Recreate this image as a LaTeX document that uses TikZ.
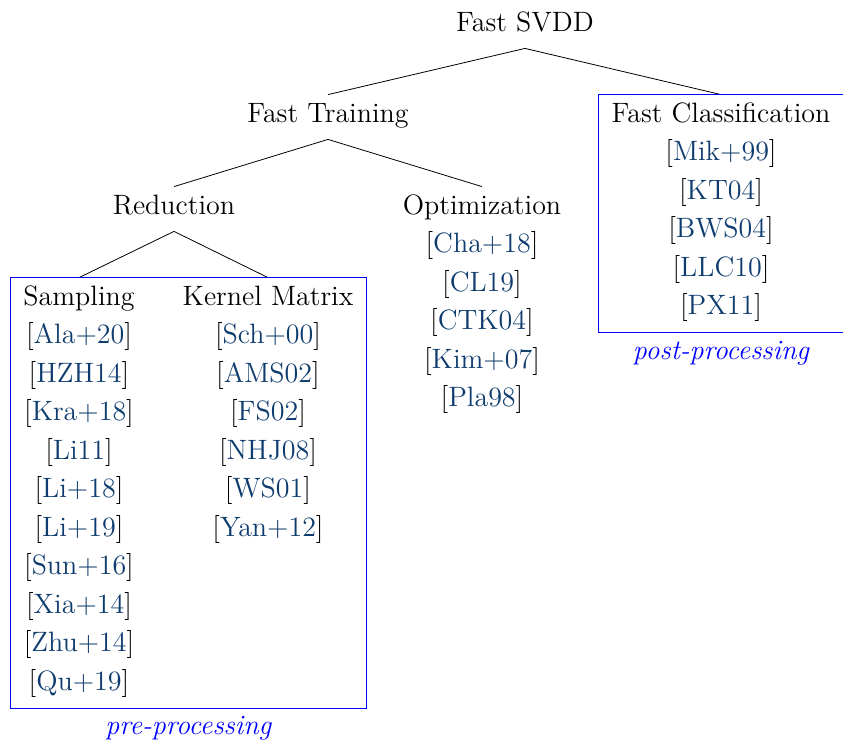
\documentclass[tikz,border=0pt]{standalone}
\usepackage{tikz}
\usetikzlibrary{positioning,fit}
\definecolor{citeblue}{RGB}{15,60,110}
\definecolor{framecol}{RGB}{0,0,255}
\newcommand{\cit}[1]{[\textcolor{citeblue}{#1}]}

\begin{document}
\begin{tikzpicture}[x=0.5pt,y=-0.5pt,font=\fontsize{14}{19.25}\selectfont,node distance=0pt]
            \tikzstyle{head}=[inner xsep=0pt,inner ysep=6pt,text height=0.75em,text depth=0.25em,anchor=base]
            \tikzstyle{cites}=[inner sep=0pt,align=center]
            \tikzstyle{frame}=[inner xsep=6pt,inner ysep=0pt]
            \tikzstyle{note}=[inner sep=0pt,text height=0.75em,text depth=0.25em,text=framecol,font=\fontsize{14}{19.25}\selectfont\itshape]
            \useasboundingbox (0,0) rectangle (843,751);

            \node[head] (root) at (525,31) {Fast SVDD};
            \node[head] (train) at (328,122) {Fast Training};
            \node[head] (fc) at (721,122) {Fast Classification};
            \node[cites,below=of fc] (fccites) {\cit{Mik+99}\\\cit{KT04}\\\cit{BWS04}\\\cit{LLC10}\\\cit{PX11}};
            \node[head] (red) at (174,214) {Reduction};
            \node[head] (opt) at (482,214) {Optimization};
            \node[cites,below=of opt] (optcites) {\cit{Cha+18}\\\cit{CL19}\\\cit{CTK04}\\\cit{Kim+07}\\\cit{Pla98}};
            \node[head] (samp) at (79,305) {Sampling};
            \node[cites,below=of samp] (sampcites) {\cit{Ala+20}\\\cit{HZH14}\\\cit{Kra+18}\\\cit{Li11}\\\cit{Li+18}\\\cit{Li+19}\\\cit{Sun+16}\\\cit{Xia+14}\\\cit{Zhu+14}\\\cit{Qu+19}};
            \node[head] (kern) at (268,305) {Kernel Matrix};
            \node[cites,below=of kern] (kerncites) {\cit{Sch+00}\\\cit{AMS02}\\\cit{FS02}\\\cit{NHJ08}\\\cit{WS01}\\\cit{Yan+12}};

            \coordinate[below=5pt of fccites] (postbot);
            \coordinate[below=5pt of sampcites] (prebot);
            \node[frame,fit=(fc)(fccites)(postbot)] (postbox) {};
            \node[frame,fit=(samp)(kern)(sampcites)(prebot)] (prebox) {};
            \node[note,below=5.5pt of prebox] (prelbl) {pre-processing};
            \node[note,below=5.5pt of postbox] (postlbl) {post-processing};

            \draw (root.south) -- (train.north);
            \draw (root.south) -- (fc.north);
            \draw (train.south) -- (red.north);
            \draw (train.south) -- (opt.north);
            \draw (red.south) -- (samp.north);
            \draw (red.south) -- (kern.north);
            \draw[framecol] (prebox.north west) rectangle (prebox.south east);
            \draw[framecol] (postbox.north west) rectangle (postbox.south east);
        \end{tikzpicture}
\end{document}
